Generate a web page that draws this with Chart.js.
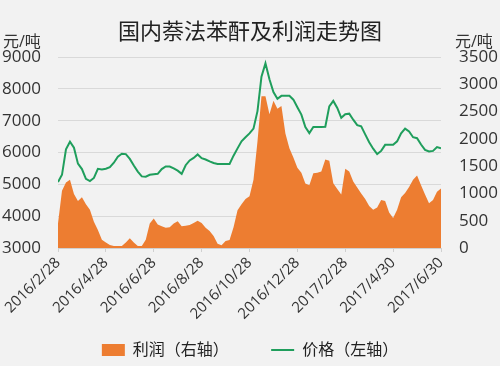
<!DOCTYPE html>
<html>
<head>
    <script src="https://cdn.jsdelivr.net/npm/chart.js"></script>
    <title>国内萘法苯酐及利润走势图</title>
    <style>
        body { margin: 0; background: #f2f2f2; }
        #chart { display: block; }
    </style>
</head>
<body>
    <canvas id="chart" width="500" height="366"></canvas>

    <script>
        // x axis: 97 points, a tick label every 12 points
        const tickLabels = ['2016/2/28', '2016/4/28', '2016/6/28', '2016/8/28', '2016/10/28',
            '2016/12/28', '2017/2/28', '2017/4/30', '2017/6/30'];

        // 价格 (元/吨, 左轴)
        const price = [
            5070, 5300, 6100, 6340, 6150, 5650, 5480, 5170, 5100, 5200,
            5490, 5470, 5490, 5540, 5680, 5870, 5960, 5950, 5800, 5590,
            5400, 5250, 5240, 5300, 5320, 5330, 5480, 5560, 5560, 5500,
            5430, 5330, 5600, 5750, 5830, 5940, 5820, 5780, 5720, 5670,
            5640, 5640, 5640, 5640, 5900, 6130, 6350, 6480, 6600, 6750,
            7300, 8380, 8800, 8300, 7900, 7690, 7780, 7780, 7780, 7660,
            7420, 7190, 6800, 6610, 6800, 6800, 6800, 6810, 7450, 7620,
            7400, 7090, 7200, 7220, 7030, 6860, 6820, 6570, 6320, 6120,
            5950, 6050, 6240, 6240, 6240, 6350, 6600, 6750, 6660, 6480,
            6450, 6250, 6080, 6030, 6050, 6170, 6130
        ];

        // 利润 (元/吨, 右轴)
        const profit = [
            450, 1050, 1200, 1250, 990, 860, 930, 800, 700, 480,
            330, 150, 100, 55, 35, 35, 35, 100, 180, 100,
            35, 35, 150, 450, 540, 430, 400, 370, 380, 450,
            490, 400, 410, 420, 460, 500, 460, 370, 310, 220,
            80, 50, 130, 145, 380, 690, 800, 900, 950, 1250,
            1950, 2780, 2780, 2450, 2700, 2550, 2600, 2100, 1830, 1660,
            1470, 1380, 1180, 1150, 1370, 1380, 1400, 1620, 1600, 1185,
            1080, 980, 1450, 1400, 1220, 1110, 1000, 900, 770, 700,
            740, 880, 860, 650, 550, 700, 930, 1010, 1120, 1250,
            1330, 1150, 980, 820, 880, 1030, 1090
        ];

        const positions = price.map((v, i) => i);

        const FONT = '"Open Sans", "Noto Sans CJK SC", sans-serif';
        Chart.defaults.font.family = FONT;
        Chart.defaults.color = '#333';

        const bgPlugin = {
            id: 'bg',
            beforeDraw(chart) {
                const ctx = chart.ctx;
                ctx.save();
                ctx.fillStyle = '#f2f2f2';
                ctx.fillRect(0, 0, chart.width, chart.height);
                ctx.restore();
            }
        };

        // unit text above both y axes
        const unitPlugin = {
            id: 'units',
            afterDraw(chart) {
                const ctx = chart.ctx;
                ctx.save();
                ctx.font = '16px ' + FONT;
                ctx.fillStyle = '#333';
                ctx.textBaseline = 'middle';
                ctx.textAlign = 'left';
                ctx.fillText('元/吨', 3, 42);
                ctx.fillText('元/吨', 455, 42);
                ctx.restore();
            }
        };

        new Chart(document.getElementById('chart'), {
            type: 'line',
            data: {
                labels: positions,
                datasets: [
                    {
                        label: '利润（右轴）\u3000\u3000  ',
                        data: profit,
                        yAxisID: 'y1',
                        backgroundColor: '#ed7d31',
                        borderColor: '#ed7d31',
                        borderWidth: 0,
                        fill: 'origin',
                        pointRadius: 0,
                        pointStyle: 'rect',
                        tension: 0,
                        order: 2
                    },
                    {
                        label: '价格（左轴）',
                        data: price,
                        yAxisID: 'y',
                        borderColor: '#1f9e5c',
                        backgroundColor: '#1f9e5c',
                        borderWidth: 2,
                        fill: false,
                        pointRadius: 0,
                        pointStyle: 'line',
                        tension: 0,
                        order: 1
                    }
                ]
            },
            options: {
                responsive: false,
                animation: false,
                layout: {
                    padding: { left: 0, right: 0, top: 0, bottom: -2 }
                },
                plugins: {
                    title: {
                        display: true,
                        text: '国内萘法苯酐及利润走势图',
                        color: '#222',
                        font: { size: 22, weight: 'normal' },
                        padding: { top: 20, bottom: 10.6 }
                    },
                    legend: {
                        position: 'bottom',
                        labels: {
                            usePointStyle: true,
                            pointStyleWidth: 23,
                            boxHeight: 12,
                            padding: 10,
                            color: '#222',
                            font: { size: 16 },
                            sort: (a, b) => a.datasetIndex - b.datasetIndex
                        }
                    },
                    tooltip: { enabled: false }
                },
                scales: {
                    x: {
                        type: 'linear',
                        min: 0,
                        max: 96,
                        grid: {
                            display: true,
                            drawOnChartArea: false,
                            drawTicks: true,
                            tickLength: 4,
                            color: '#d0d0d0'
                        },
                        border: { display: true, color: '#d0d0d0' },
                        ticks: {
                            stepSize: 12,
                            autoSkip: false,
                            maxRotation: 45,
                            minRotation: 45,
                            padding: 2,
                            font: { size: 15 },
                            color: '#333',
                            callback: (v) => tickLabels[v / 12] ?? ''
                        },
                        afterFit(scale) { scale.height = 84; }
                    },
                    y: {
                        position: 'left',
                        min: 3000,
                        max: 9000,
                        grid: { color: '#d9d9d9', drawTicks: false },
                        border: { display: false },
                        ticks: {
                            stepSize: 1000,
                            padding: 17,
                            font: { size: 17 },
                            color: '#333',
                            callback: (v) => String(v)
                        },
                        afterFit(scale) { scale.width = 58; }
                    },
                    y1: {
                        position: 'right',
                        min: 0,
                        max: 3500,
                        grid: { display: false, drawTicks: false },
                        border: { display: false },
                        ticks: {
                            stepSize: 500,
                            padding: 18,
                            font: { size: 17 },
                            color: '#333',
                            callback: (v) => String(v)
                        },
                        afterFit(scale) { scale.width = 59; }
                    }
                }
            },
            plugins: [bgPlugin, unitPlugin]
        });
    </script>
</body>
</html>
